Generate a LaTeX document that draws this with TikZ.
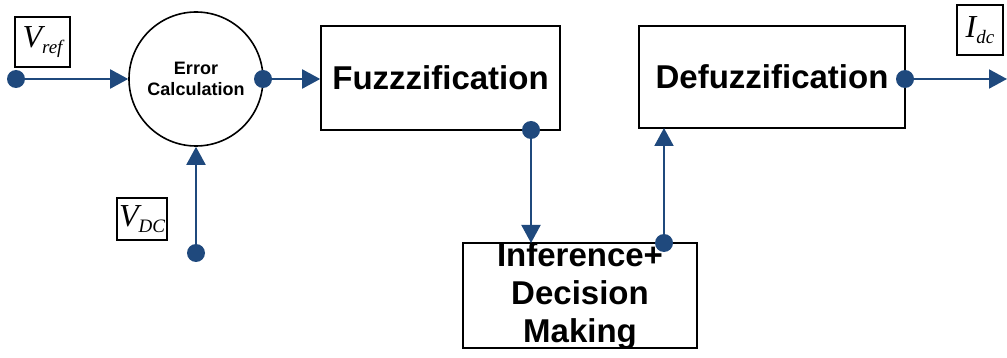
\documentclass[tikz,border=0pt]{standalone}
\usepackage{fontspec}
\setmainfont{Liberation Sans}
\newfontfamily\tnr{Liberation Serif}
\usetikzlibrary{arrows.meta}
\definecolor{lblue}{HTML}{1F497D}
\tikzset{
  blk/.style={draw=black, line width=1.6pt, minimum width=#1, inner sep=0pt, font=\bfseries\fontsize{33}{38}\selectfont, align=center},
  lbl/.style={draw=black, line width=1.4pt, inner sep=0pt, font=\tnr\itshape\fontsize{32}{32}\selectfont},
  conn/.style={draw=lblue, line width=2pt, -{Triangle[length=18pt,width=19pt]}, fill=lblue},
  dotc/.style={circle, fill=lblue, minimum size=18pt, inner sep=0pt}
}
\newcommand{\sbx}[1]{\raisebox{-0.4ex}{\fontsize{19}{19}\selectfont #1}}
\begin{document}
\begin{tikzpicture}[x=1pt,y=-1pt]
\useasboundingbox (0,0) rectangle (1007,358);
% blocks
\node[circle, draw=black, line width=1.6pt, minimum size=134pt, inner sep=0pt, align=center, font=\bfseries\fontsize{18}{21}\selectfont] (err) at (196,79) {Error\\Calculation};
\node[blk=239pt, minimum height=104pt] (fuz) at (440.5,78) {Fuzzzification};
\node[blk=266pt, minimum height=102pt] (def) at (772,77) {Defuzzification};
\node[blk=234pt, minimum height=105pt] (inf) at (580,295.5) {};
\node[font=\bfseries\fontsize{33}{38}\selectfont, align=center, inner sep=0pt] (inft) at (580,296) {Inference+\\Decision\\Making};
% labels
\node[lbl, minimum width=55pt, minimum height=50pt] (vref) at (42.5,42) {V\sbx{ref}};
\node[lbl, minimum width=50pt, minimum height=42pt] (vdc) at (142,219) {V\sbx{DC}};
\node[lbl, minimum width=46pt, minimum height=50pt] (idc) at (980,30) {I\sbx{dc}};
% coordinates
\coordinate (in1) at (16,79);
\coordinate (in2) at (196,253);
\coordinate (eout) at (263,79);
\coordinate (fout) at (531,130);
\coordinate (iin) at (531,243);
\coordinate (iout) at (664,243);
\coordinate (din) at (664,128);
\coordinate (dout) at (905,79);
\coordinate (out) at (1007,79);
% connectors
\draw[conn] (in1) -- (err.west);
\draw[conn] (in2) -- (err.south);
\draw[conn] (eout) -- (fuz.west |- eout);
\draw[conn] (fout) -- (iin);
\draw[conn] (iout) -- (din);
\draw[conn] (dout) -- (out);
% dots
\node[dotc] (d1) at (in1) {};
\node[dotc] (d2) at (in2) {};
\node[dotc] (d3) at (eout) {};
\node[dotc] (d4) at (fout) {};
\node[dotc] (d5) at (iout) {};
\node[dotc] (d6) at (dout) {};
\end{tikzpicture}
\end{document}
